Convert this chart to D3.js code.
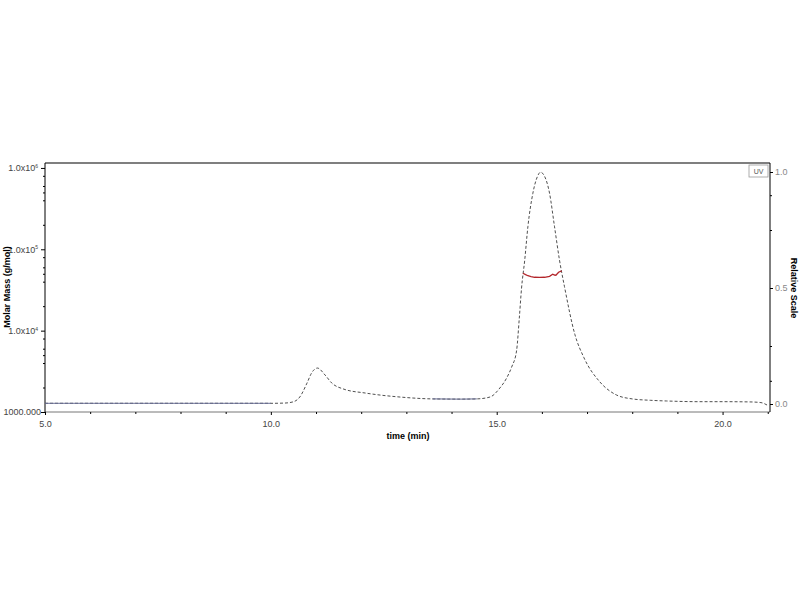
<!DOCTYPE html>
<html>
<head>
<meta charset="utf-8">
<script src="https://cdn.jsdelivr.net/npm/d3@7"></script>
<style>
  body { margin: 0; background: #fff; }
  svg { display: block; }
  text { font-family: "Liberation Sans", "DejaVu Sans", sans-serif; }
</style>
</head>
<body>
<svg id="chart" width="800" height="600"></svg>
<script>
// UV trace (relative scale)
const uvTime = [5.0, 6.0, 7.0, 8.0, 9.0, 10.0, 10.3, 10.49, 10.64, 10.8, 10.9, 11.03, 11.2, 11.35, 11.6, 12.1, 12.86, 13.58, 14.2, 14.56, 14.85, 15.07, 15.22, 15.33, 15.44, 15.5, 15.55, 15.62, 15.69, 15.8, 15.9, 15.97, 16.05, 16.17, 16.28, 16.39, 16.5, 16.73, 16.93, 17.28, 17.65, 18.0, 18.4, 18.76, 19.5, 20.0, 20.6, 20.85, 21.0];
const uvValue = [0.003, 0.003, 0.003, 0.003, 0.003, 0.003, 0.004, 0.009, 0.03, 0.09, 0.133, 0.155, 0.125, 0.09, 0.065, 0.047, 0.03, 0.022, 0.021, 0.022, 0.03, 0.069, 0.112, 0.159, 0.23, 0.37, 0.5, 0.62, 0.764, 0.908, 0.98, 0.999, 0.985, 0.908, 0.764, 0.62, 0.506, 0.3, 0.2, 0.096, 0.039, 0.022, 0.016, 0.013, 0.01, 0.01, 0.009, 0.006, -0.006];

// Molar mass across the main peak (g/mol)
const mmTime = [15.58, 15.64, 15.69, 15.76, 15.84, 15.95, 16.06, 16.17, 16.24, 16.28, 16.31, 16.37, 16.44];
const mmValue = [50800, 48800, 47300, 46200, 45300, 45100, 45300, 46500, 49400, 48300, 47900, 52200, 54400];

// solid (bluish) stretches of the UV trace, the rest is drawn dashed
const solidRanges = [[5.0, 10.2], [12.9, 14.6], [19.0, 19.6], [20.0, 20.5]];

const xTicks = [5, 10, 15, 20];
const xMinorTicks = [6, 7, 8, 9, 11, 12, 13, 14, 16, 17, 18, 19, 21];
const leftTicks = [1000, 1e4, 1e5, 1e6];
const leftTickLabels = ["1000.000", "1.0x10|4", "1.0x10|5", "1.0x10|6"];
const leftMinorMult = [2, 4, 5, 6, 8];
const rightTicks = [0, 0.5, 1.0];
const rightMinorTicks = [0.1, 0.25, 0.75, 0.9];

const svg = d3.select("#chart");
const mLeft = 45, mRight = 770, mTop = 163, mBottom = 412;

const x = d3.scaleLinear().domain([5, 21.05]).range([mLeft, mRight]);
const yL = d3.scaleLog().domain([1000, 1.15e6]).range([mBottom, mTop]);
const yR = d3.scaleLinear().domain([0, 1]).range([404, 172]);

// frame
svg.append("line").attr("x1", mLeft).attr("x2", mRight).attr("y1", mTop).attr("y2", mTop)
  .attr("stroke", "#000").attr("stroke-width", 1.2);

// x axis
const gx = svg.append("g").attr("transform", `translate(0,${mBottom})`)
  .call(d3.axisBottom(x).tickValues(xTicks).tickSize(3).tickFormat(d3.format(".1f")));
gx.select(".domain").attr("stroke", "#777").attr("d", `M${mLeft},0H${mRight}`);
gx.selectAll("text").attr("font-size", 9).attr("fill", "#444").attr("dy", "0.95em");
svg.append("g").attr("transform", `translate(0,${mBottom})`)
  .call(d3.axisBottom(x).tickValues(xMinorTicks).tickSize(2).tickFormat(""))
  .select(".domain").remove();

// left axis
const minorL = [];
[1000, 1e4, 1e5].forEach(d => leftMinorMult.forEach(m => minorL.push(d * m)));
const gl = svg.append("g").attr("transform", `translate(${mLeft},0)`)
  .call(d3.axisLeft(yL).tickValues(leftTicks).tickSize(4).tickFormat((d, i) => leftTickLabels[i]));
gl.select(".domain").attr("stroke", "#000").attr("d", `M0,${mTop}V${mBottom}`);
gl.selectAll("text").each(function () {
  const t = d3.select(this);
  const parts = t.text().split("|");
  t.text(parts[0]).attr("font-size", 9).attr("fill", "#444").attr("x", -4);
  if (parts[1]) {
    t.attr("x", -7);
    t.append("tspan").attr("dy", "-0.7em").attr("font-size", 5).text(parts[1]);
  }
});
svg.append("g").attr("transform", `translate(${mLeft},0)`)
  .call(d3.axisLeft(yL).tickValues(minorL).tickSize(2).tickFormat(""))
  .select(".domain").remove();

// right axis
const gr = svg.append("g").attr("transform", `translate(${mRight},0)`)
  .call(d3.axisRight(yR).tickValues(rightTicks).tickSize(3).tickFormat(d3.format(".1f")));
gr.select(".domain").attr("stroke", "#000").attr("d", `M0,${mTop}V${mBottom}`);
gr.selectAll("text").attr("font-size", 9).attr("fill", "#888").attr("x", 5);
svg.append("g").attr("transform", `translate(${mRight},0)`)
  .call(d3.axisRight(yR).tickValues(rightMinorTicks).tickSize(2).tickFormat(""))
  .select(".domain").remove();

// axis titles
svg.append("text").attr("transform", "translate(10,287) rotate(-90)")
  .attr("text-anchor", "middle").attr("font-size", 9).attr("font-weight", "bold")
  .text("Molar Mass (g/mol)");
svg.append("text").attr("transform", "translate(791,288) rotate(90)")
  .attr("text-anchor", "middle").attr("font-size", 9).attr("font-weight", "bold")
  .text("Relative Scale");
svg.append("text").attr("x", 408).attr("y", 439)
  .attr("text-anchor", "middle").attr("font-size", 9).attr("font-weight", "bold")
  .text("time (min)");

// UV trace
const uv = uvTime.map((t, i) => [t, uvValue[i]]);
const uvLine = d3.line().x(d => x(d[0])).y(d => yR(d[1])).curve(d3.curveMonotoneX);
svg.append("path").datum(uv).attr("d", uvLine)
  .attr("fill", "none").attr("stroke", "#222").attr("stroke-width", 0.8)
  .attr("stroke-dasharray", "3,2");
solidRanges.forEach(([a, b]) => {
  svg.append("path").datum(uv.filter(d => d[0] >= a && d[0] <= b)).attr("d", uvLine)
    .attr("fill", "none").attr("stroke", "#6a6f95").attr("stroke-width", 1);
});

// molar mass trace
const mm = mmTime.map((t, i) => [t, mmValue[i]]);
svg.append("path").datum(mm)
  .attr("d", d3.line().x(d => x(d[0])).y(d => yL(d[1])))
  .attr("fill", "none").attr("stroke", "#b3262b").attr("stroke-width", 1.3);

// legend
svg.append("rect").attr("x", 749).attr("y", 165).attr("width", 19).attr("height", 12)
  .attr("fill", "#fff").attr("stroke", "#999").attr("stroke-width", 0.8);
svg.append("text").attr("x", 758.5).attr("y", 174).attr("text-anchor", "middle")
  .attr("font-size", 7).attr("fill", "#555").text("UV");
</script>
</body>
</html>
